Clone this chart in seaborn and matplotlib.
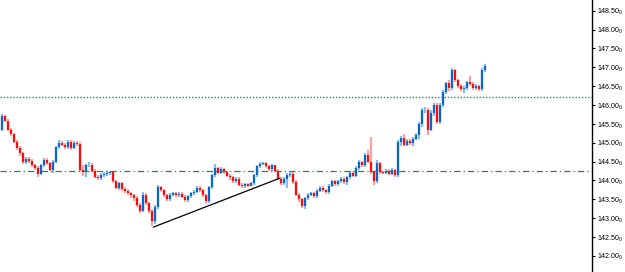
import matplotlib
matplotlib.use('Agg')
import matplotlib.pyplot as plt
import seaborn as sns
import numpy as np
import pandas as pd

# Candle data, opens follow the previous close
first_open = 145.34
closes = [
    145.70, 145.58, 145.34, 145.22, 145.02, 144.85, 144.72, 144.48, 144.58, 144.52,
    144.40, 144.34, 144.18, 144.40, 144.55, 144.46, 144.28, 144.50, 144.88, 145.00,
    144.95, 144.88, 145.02, 144.85, 145.00, 144.97, 144.28, 144.22, 144.40, 144.42,
    144.26, 144.10, 144.06, 144.15, 144.18, 144.20, 144.22, 143.98, 143.80, 143.92,
    143.78, 143.72, 143.66, 143.60, 143.54, 143.35, 143.20, 143.62, 143.40, 143.20,
    142.92, 143.30, 143.82, 143.74, 143.60, 143.50, 143.62, 143.66, 143.60, 143.64,
    143.56, 143.48, 143.58, 143.66, 143.70, 143.80, 143.74, 143.60, 143.46, 143.82,
    144.14, 144.32, 144.20, 144.30, 144.22, 144.12, 144.08, 143.98, 144.05, 143.88,
    143.84, 143.90, 143.86, 143.92, 144.14, 144.38, 144.43, 144.46, 144.38, 144.30,
    144.40, 144.26, 144.05, 143.92, 144.05, 144.15, 144.18, 143.95, 143.62, 143.50,
    143.32, 143.52, 143.62, 143.66, 143.58, 143.72, 143.80, 143.74, 143.68, 143.86,
    143.98, 143.90, 143.98, 144.05, 143.95, 144.08, 144.20, 144.12, 144.33, 144.49,
    144.40, 144.67, 144.50, 144.22, 143.98, 144.45, 144.22, 144.20, 144.26, 144.18,
    144.28, 144.14, 145.02, 145.12, 144.95, 145.05, 144.98, 145.10, 145.20, 145.50,
    145.87, 145.88, 145.34, 145.80, 146.00, 145.55, 146.00, 146.35, 146.58, 146.45,
    146.93, 146.65, 146.50, 146.42, 146.45, 146.60, 146.55, 146.45, 146.50, 146.42,
    146.93, 147.03,
]
highs = [
    145.76, 145.74, 145.62, 145.38, 145.26, 145.06, 144.90, 144.76, 144.62, 144.62,
    144.56, 144.44, 144.38, 144.44, 144.60, 144.60, 144.50, 144.54, 144.92, 145.06,
    145.05, 145.00, 145.08, 145.06, 145.04, 145.05, 145.02, 144.40, 144.44, 144.48,
    144.46, 144.30, 144.14, 144.20, 144.22, 144.25, 144.26, 144.26, 144.02, 143.96,
    143.96, 143.82, 143.76, 143.70, 143.64, 143.58, 143.40, 143.68, 143.66, 143.44,
    143.24, 143.34, 143.88, 143.86, 143.78, 143.64, 143.66, 143.70, 143.70, 143.68,
    143.68, 143.60, 143.62, 143.70, 143.74, 143.84, 143.84, 143.78, 143.64, 143.86,
    144.18, 144.43, 144.36, 144.36, 144.34, 144.26, 144.16, 144.12, 144.10, 144.08,
    143.92, 143.94, 143.94, 143.96, 144.18, 144.42, 144.48, 144.50, 144.50, 144.42,
    144.44, 144.42, 144.30, 144.10, 144.10, 144.20, 144.24, 144.24, 144.00, 143.66,
    143.54, 143.56, 143.66, 143.70, 143.70, 143.76, 143.84, 143.84, 143.78, 143.90,
    144.02, 144.02, 144.02, 144.10, 144.08, 144.12, 144.24, 144.24, 144.38, 144.54,
    144.52, 144.72, 144.80, 145.15, 144.26, 144.55, 144.48, 144.26, 144.30, 144.30,
    144.32, 144.30, 145.08, 145.18, 145.22, 145.10, 145.10, 145.14, 145.26, 145.55,
    145.92, 145.94, 145.92, 145.86, 146.06, 146.04, 146.05, 146.40, 146.62, 146.66,
    146.97, 146.96, 146.70, 146.55, 146.50, 146.64, 146.77, 146.60, 146.55, 146.54,
    146.97, 147.08,
]
lows = [
    145.30, 145.54, 145.30, 145.18, 144.98, 144.80, 144.66, 144.44, 144.44, 144.46,
    144.36, 144.28, 144.10, 144.14, 144.36, 144.42, 144.24, 144.20, 144.46, 144.84,
    144.90, 144.84, 144.84, 144.80, 144.82, 144.92, 144.22, 144.12, 144.10, 144.36,
    144.22, 144.06, 144.00, 144.02, 144.10, 144.12, 144.14, 143.94, 143.76, 143.74,
    143.72, 143.66, 143.60, 143.54, 143.46, 143.30, 143.14, 143.16, 143.34, 143.14,
    142.78, 142.84, 143.24, 143.70, 143.56, 143.46, 143.46, 143.58, 143.56, 143.56,
    143.52, 143.44, 143.44, 143.54, 143.62, 143.66, 143.70, 143.56, 143.40, 143.40,
    143.78, 144.10, 144.16, 144.16, 144.18, 144.08, 144.02, 143.94, 143.94, 143.84,
    143.80, 143.80, 143.82, 143.84, 143.88, 144.10, 144.34, 144.40, 144.34, 144.26,
    144.26, 144.22, 144.00, 143.88, 143.88, 143.80, 144.10, 143.90, 143.58, 143.44,
    143.28, 143.24, 143.48, 143.58, 143.54, 143.54, 143.68, 143.70, 143.64, 143.64,
    143.82, 143.86, 143.86, 143.94, 143.90, 143.88, 144.04, 144.08, 144.08, 144.28,
    144.36, 144.36, 144.46, 144.18, 143.88, 143.94, 144.18, 144.16, 144.16, 144.14,
    144.14, 144.10, 144.10, 144.92, 144.90, 144.90, 144.94, 144.92, 145.06, 145.10,
    145.42, 145.80, 145.20, 145.30, 145.70, 145.50, 145.50, 145.96, 146.30, 146.36,
    146.40, 146.60, 146.46, 146.38, 146.32, 146.40, 146.50, 146.40, 146.40, 146.38,
    146.38, 146.88,
]

# horizontal levels and the drawn trend line
level_dotted = 146.21
level_dashdot = 144.25
trend_bar = [50.6, 92.8]
trend_price = [142.76, 144.06]

y_ticks = [142.0, 142.5, 143.0, 143.5, 144.0, 144.5, 145.0, 145.5,
           146.0, 146.5, 147.0, 147.5, 148.0, 148.5]

opens = [first_open] + closes[:-1]
df = pd.DataFrame({'bar': range(len(closes)), 'open': opens, 'high': highs,
                   'low': lows, 'close': closes})
df['up'] = df['close'] >= df['open']
df['body_lo'] = df[['open', 'close']].min(axis=1)
df['body_hi'] = df[['open', 'close']].max(axis=1)

sns.set_theme(style='white')
plt.rcParams['font.family'] = ['Liberation Sans', 'DejaVu Sans']

fig = plt.figure(figsize=(6.25, 2.72), dpi=100)
ax = fig.add_axes([0, 0, 592 / 625, 1])

w = 1.6  # candle width in points (~2 px)
colors = {True: ('#0a66c8', '#8dbbe8'), False: ('#ff0a0a', '#f7a3a3')}
for up, grp in df.groupby('up'):
    dark, light = colors[up]
    ax.vlines(grp['bar'], grp['low'], grp['high'], colors=light, lw=w, capstyle='butt')
    ax.vlines(grp['bar'], grp['body_lo'], grp['body_hi'], colors=dark, lw=w, capstyle='butt')

ax.axhline(level_dotted, color='#23934a', lw=1, ls=(0, (1, 1.3)))
ax.axhline(level_dashdot, color='#23874a', lw=0.9, ls=(0, (5, 2.5, 1, 2.5)))

sns.lineplot(x=trend_bar, y=trend_price, ax=ax, color='black', lw=0.9)

ax.set_xlim(-0.5, 196.8)
ax.set_ylim(141.57, 148.785)
ax.set_xticks([])
ax.yaxis.tick_right()
ax.set_yticks(y_ticks)
ax.set_yticklabels([r'$\mathregular{%.2f}_{\mathregular{0}}$' % v for v in y_ticks])
ax.tick_params(axis='y', right=True, length=2.5, width=0.8, color='black', pad=1,
               labelsize=5.1, labelcolor='black', direction='out')
for s in ['top', 'left', 'bottom']:
    ax.spines[s].set_visible(False)
ax.spines['right'].set_color('black')
ax.spines['right'].set_linewidth(1)
ax.set_xlabel('')
ax.set_ylabel('')

fig.savefig('out.png', dpi=100)
